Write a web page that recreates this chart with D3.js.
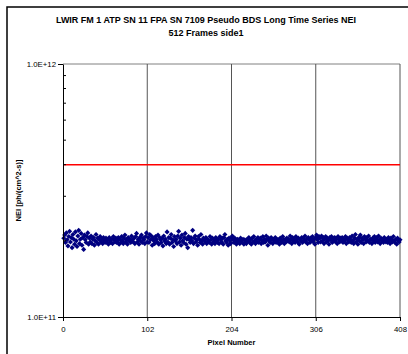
<!DOCTYPE html>
<meta charset="utf-8">
<style>
body { margin:0; background:#fff; }
text { font-family: "Liberation Sans", Arial, sans-serif; fill:#000; }
.title { font-size:9px; font-weight:bold; text-anchor:middle; }
.tick text { font-size:7.8px; }
.axlabel { font-size:7.5px; font-weight:bold; text-anchor:middle; }
</style>
<body>
<script src="https://d3js.org/d3.v7.min.js"></script>
<script>

// NEI per pixel, in units of 1e11 ph/(cm^2-s), pixels 1..408
var nei = [
  2.05,2.11,1.97,2.15,2.02,1.91,2.08,2.18,1.98,2.06,1.88,2.12,2.03,1.94,2.17,2.00,1.90,
  2.09,2.20,1.95,2.03,2.14,1.92,2.06,1.85,2.11,2.02,1.97,2.08,2.15,1.94,2.05,1.98,2.09,
  1.95,2.03,2.06,1.92,2.00,2.12,1.97,2.05,1.94,2.02,2.08,1.98,2.03,1.95,2.06,2.00,1.97,
  2.05,1.98,2.02,1.94,2.06,2.00,1.97,2.03,1.95,2.08,2.02,1.98,2.05,1.97,2.00,2.06,1.94,
  2.03,1.97,2.08,2.00,1.95,2.05,2.11,1.98,2.02,1.94,2.06,2.00,2.03,1.97,2.09,2.02,1.98,
  2.05,1.95,2.08,2.14,1.98,2.03,1.94,2.06,2.00,2.11,1.97,2.05,2.02,1.95,2.08,2.15,1.98,
  2.06,1.97,2.12,2.02,2.09,1.92,2.05,2.00,1.95,2.08,2.03,1.98,2.11,1.94,2.06,2.02,1.97,
  2.05,1.91,2.09,2.00,2.03,1.95,2.17,1.98,2.06,1.94,2.05,2.12,1.97,2.02,1.90,2.08,2.00,
  2.03,1.95,2.09,2.18,1.98,2.05,1.92,2.11,2.00,1.97,2.06,2.14,1.94,2.03,1.88,2.08,2.02,
  1.97,2.06,2.00,2.20,1.95,2.05,2.09,1.98,2.02,1.92,2.08,2.03,1.97,2.12,2.00,1.94,2.05,
  2.02,1.98,2.06,1.95,2.03,2.00,1.97,2.08,2.02,1.94,2.05,1.98,2.03,1.95,2.06,2.00,1.97,
  2.03,1.95,2.08,2.02,1.98,2.05,1.94,2.06,2.12,2.00,1.97,2.03,1.92,2.05,2.00,1.95,2.06,
  2.09,2.02,1.97,2.05,2.00,1.94,2.03,1.98,2.02,1.95,2.05,2.00,1.97,2.03,1.94,2.02,1.98,
  1.95,2.03,2.00,2.06,1.97,2.02,1.94,2.05,1.98,2.08,2.00,1.95,2.03,1.98,2.06,1.97,2.02,
  2.05,1.95,2.00,2.08,1.97,2.03,1.98,2.09,2.02,1.92,2.05,2.00,1.97,2.06,2.02,1.95,2.03,
  2.00,2.06,1.97,2.03,1.98,2.02,1.94,2.05,2.00,1.97,2.08,2.02,1.95,2.03,1.98,2.05,2.00,
  2.03,1.98,2.09,2.02,1.95,2.06,2.00,2.03,1.97,2.08,2.02,1.98,2.05,1.94,2.03,2.00,2.06,
  1.97,2.05,2.00,2.09,1.98,2.03,1.95,2.06,2.02,1.97,2.05,2.00,2.08,1.98,2.03,1.94,2.06,
  2.11,2.02,1.97,2.08,2.05,1.98,2.09,2.00,2.06,1.95,2.03,2.08,1.98,2.05,2.00,1.94,2.06,
  2.02,2.08,1.97,2.05,2.00,2.06,1.98,2.03,1.95,2.08,2.02,1.98,2.05,2.00,2.06,1.97,2.03,
  2.00,2.08,1.95,2.05,2.02,1.98,2.06,2.03,1.97,2.09,2.00,1.95,2.05,2.12,1.98,2.03,1.94,
  2.06,2.00,2.11,1.97,2.05,2.02,1.95,2.08,2.03,1.98,2.06,2.00,2.09,1.97,2.03,2.02,1.95,
  2.05,2.00,2.08,1.97,2.03,2.06,1.98,2.09,2.02,1.95,2.05,2.00,2.03,1.97,2.06,2.02,1.98,
  2.03,1.97,2.06,2.00,1.95,2.05,2.02,1.98,2.08,2.00,1.97,2.03,1.94,2.05,2.00,1.98,2.02
];
var limit = 4.0e11;          // red requirement line
var xTicks = [0, 102, 204, 306, 408];
var yMajor = [1e11, 1e12];
var titleLines = ["LWIR FM 1 ATP SN 11 FPA SN 7109 Pseudo BDS Long Time Series NEI", "512 Frames side1"];

var W = 408, H = 354;
var m = {left:63, top:64, right:400, bottom:317};

var svg = d3.select("body").append("svg").attr("width", W).attr("height", H);

// outer chart border (clipped at right/bottom like the original)
svg.append("rect").attr("x",7).attr("y",7).attr("width",420).attr("height",380)
  .attr("fill","none").attr("stroke","#000").attr("stroke-width",1.5);

svg.selectAll(".title").data(titleLines).enter().append("text")
  .attr("class","title").attr("x",206).attr("y",(d,i)=>23+i*12.5).text(d=>d);

var x = d3.scaleLinear().domain([0,408]).range([m.left, m.right]);
var y = d3.scaleLog().domain([1e11,1e12]).range([m.bottom, m.top]);

// plot frame + vertical gridlines
svg.append("line").attr("x1",m.left).attr("x2",m.right).attr("y1",m.top).attr("y2",m.top)
  .attr("stroke","#808080");
svg.selectAll(".grid").data(xTicks.slice(1)).enter().append("line")
  .attr("x1",d=>x(d)).attr("x2",d=>x(d)).attr("y1",m.top).attr("y2",m.bottom)
  .attr("stroke","#555").attr("stroke-width",1);

// red line
svg.append("line").attr("x1",m.left).attr("x2",m.right)
  .attr("y1",y(limit)).attr("y2",y(limit))
  .attr("stroke","#ff0000").attr("stroke-width",1.5);

// data points
var sq = d3.symbol().type(d3.symbolSquare).size(13);
svg.append("g").selectAll("path").data(nei).enter().append("path")
  .attr("d", sq)
  .attr("transform",(d,i)=>"translate("+x(i+1)+","+y(d*1e11)+") rotate(45)")
  .attr("fill","#000080");

// x axis
var xAxis = svg.append("g").attr("transform","translate(0,"+m.bottom+")")
  .call(d3.axisBottom(x).tickValues(xTicks).tickSize(4).tickPadding(5).tickSizeOuter(0));
xAxis.select(".domain").attr("stroke","#000");
xAxis.selectAll(".tick line").attr("stroke","#000");

// y axis, major ticks outside
var yAxis = svg.append("g").attr("transform","translate("+m.left+",0)")
  .call(d3.axisLeft(y).tickValues(yMajor).tickSize(5).tickPadding(2).tickSizeOuter(0)
    .tickFormat(d=>"1.0E+" + Math.round(Math.log10(d))));
// minor ticks inside
var minor = [];
for (var k = 2; k <= 9; k++) minor.push(k*1e11);
svg.selectAll(".minor").data(minor).enter().append("line")
  .attr("x1",m.left).attr("x2",m.left+3).attr("y1",d=>y(d)).attr("y2",d=>y(d))
  .attr("stroke","#000");

svg.append("text").attr("class","axlabel").attr("x",(m.left+m.right)/2).attr("y",345)
  .text("Pixel Number");
svg.append("text").attr("class","axlabel")
  .attr("transform","translate(21,"+((m.top+m.bottom)/2)+") rotate(-90)")
  .text("NEI [ph/(cm^2-s)]");

</script>
</body>
